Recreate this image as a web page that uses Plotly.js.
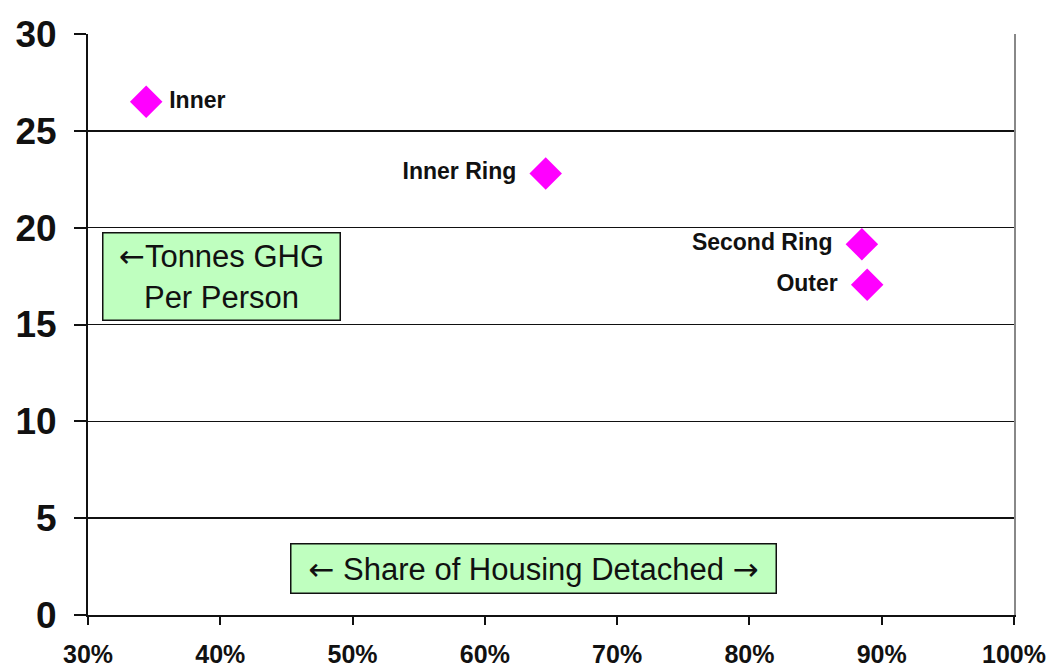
<!DOCTYPE html>
<html>
<head>
<meta charset="utf-8">
<script src="https://cdn.plot.ly/plotly-3.0.1.min.js"></script>
<style>html,body{margin:0;padding:0;background:#fff;}#chart{width:1056px;height:669px;}</style>
</head>
<body>
<div id="chart"></div>
<script>
const regions = ["Inner", "Inner Ring", "Second Ring", "Outer"];
const shareDetached = [0.344, 0.646, 0.885, 0.889];
const tonnesGHG = [26.5, 22.8, 19.15, 17.05];
const labelPositions = ["middle right", "middle left", "middle left", "middle left"];
const xTickVals = [0.3, 0.4, 0.5, 0.6, 0.7, 0.8, 0.9, 1.0];
const yTickVals = [0, 5, 10, 15, 20, 25, 30];
const arrowL = "<span style='font-family:DejaVu Sans'>\u2190</span>";
const arrowR = "<span style='font-family:DejaVu Sans'>\u2192</span>";
const yLabelText = arrowL + "Tonnes GHG<br>Per Person";
const xLabelText = arrowL + " Share of Housing Detached " + arrowR;

const pad = "\u00a0\u00a0";
const trace = {
  x: shareDetached,
  y: tonnesGHG,
  text: regions.map((r, i) => labelPositions[i] === "middle right" ? "\u00a0" + "<b>" + r + "</b>" : "<b>" + r + "</b>" + pad),
  mode: "markers+text",
  type: "scatter",
  textposition: labelPositions,
  textfont: {family: "Liberation Sans, Arial, sans-serif", size: 23, color: "#111"},
  marker: {symbol: "diamond", size: 25, color: "#FF00FF", line: {width: 0}},
  cliponaxis: false,
  hoverinfo: "none"
};

const layout = {
  width: 1056, height: 669,
  margin: {l: 88, r: 42, t: 34, b: 54},
  paper_bgcolor: "#fff", plot_bgcolor: "#fff",
  showlegend: false,
  font: {family: "Liberation Sans, Arial, sans-serif", color: "#111"},
  xaxis: {
    range: [0.3, 1.0], tickvals: xTickVals, tickformat: ".0%",
    showgrid: false, zeroline: false, automargin: false,
    showline: true, linecolor: "#111", linewidth: 2,
    ticks: "outside", ticklen: 8, tickwidth: 2, tickcolor: "#111",
    tickfont: {size: 25, family: "Liberation Sans, Arial, sans-serif", weight: "bold", color: "#111"},
    ticklabelstandoff: 8
  },
  yaxis: {
    range: [0, 30], tickvals: yTickVals,
    showgrid: true, gridcolor: "#111", gridwidth: 1.5, zeroline: false, automargin: false,
    showline: true, linecolor: "#111", linewidth: 2,
    ticks: "outside", ticklen: 12, tickwidth: 2, tickcolor: "#111",
    tickfont: {size: 37, family: "Liberation Sans, Arial, sans-serif", weight: "bold", color: "#111"},
    ticklabelstandoff: 10
  },
  yaxis2: {
    overlaying: "y", side: "right", range: [0, 30], automargin: false,
    showline: true, linecolor: "#888", linewidth: 1.5,
    showgrid: false, zeroline: false, showticklabels: false, ticks: ""
  },
  annotations: [
    {xref: "paper", yref: "paper", x: 0.1447, y: 0.5826, xanchor: "center", yanchor: "middle",
     text: yLabelText, showarrow: false, align: "center",
     font: {size: 31, family: "Liberation Sans, Arial, sans-serif", color: "#111"},
     bgcolor: "#BFFFBF", bordercolor: "#111", borderwidth: 1.5, borderpad: 2,
     width: 232, height: 82},
    {xref: "paper", yref: "paper", x: 0.4806, y: 0.080, xanchor: "center", yanchor: "middle",
     text: xLabelText, showarrow: false,
     font: {size: 31, family: "Liberation Sans, Arial, sans-serif", color: "#111"},
     bgcolor: "#BFFFBF", bordercolor: "#111", borderwidth: 1.5, borderpad: 2,
     width: 480, height: 44}
  ]
};

const axisTrace = {x: [], y: [], yaxis: "y2", type: "scatter", mode: "markers", hoverinfo: "none", showlegend: false};

Plotly.newPlot("chart", [trace, axisTrace], layout, {staticPlot: true, displayModeBar: false});
</script>
</body>
</html>
